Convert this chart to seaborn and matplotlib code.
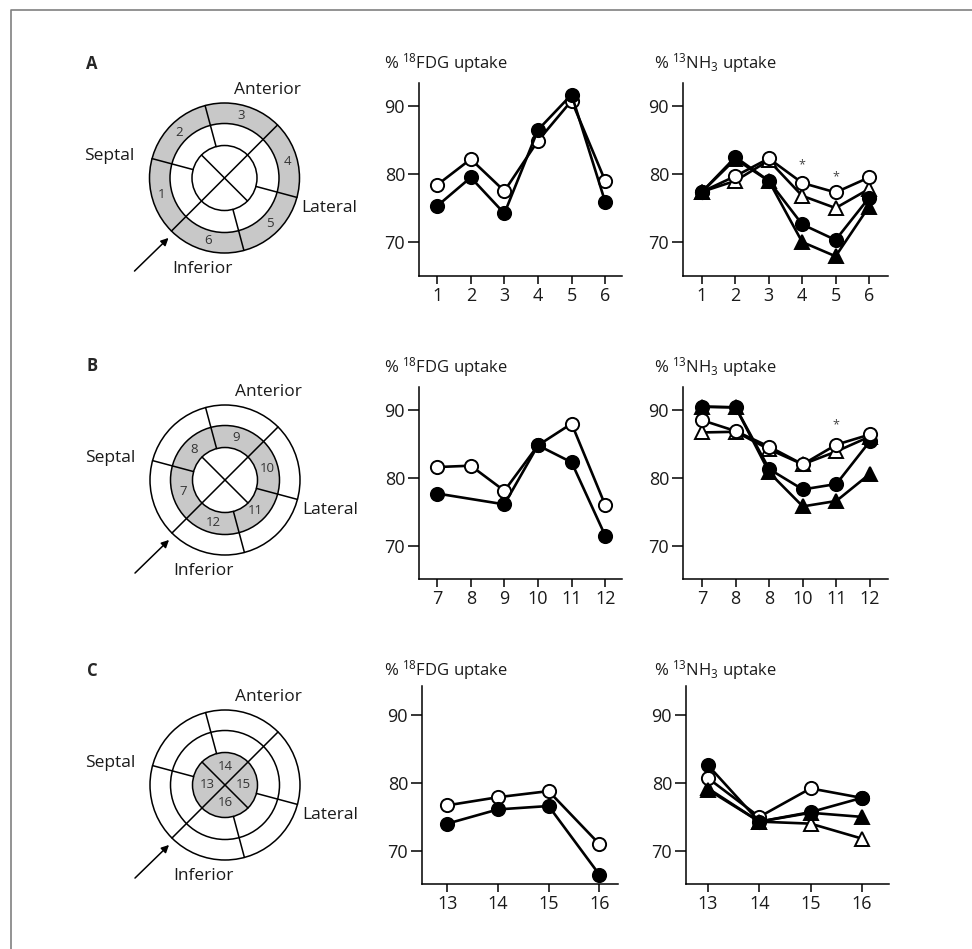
import numpy as np
import pandas as pd
import matplotlib
matplotlib.use("Agg")
import matplotlib.pyplot as plt
from matplotlib.patches import Circle, Wedge, FancyArrowPatch
from matplotlib.lines import Line2D
import seaborn as sns

# ---------------- data ----------------
ticks_A = ['1', '2', '3', '4', '5', '6']
ticks_B_fdg = ['7', '8', '9', '10', '11', '12']
ticks_B_nh3 = ['7', '8', '8', '10', '11', '12']
ticks_C = ['13', '14', '15', '16']

fdg_A_open = [78.4, 82.2, 77.5, 84.9, 90.8, 79.0]
fdg_A_filled = [75.3, 79.5, 74.2, 86.5, 91.7, 75.9]

nh3_A_open_circle = [77.4, 79.7, 82.3, 78.7, 77.3, 79.5]
nh3_A_open_tri = [77.4, 79.0, 82.0, 76.8, 75.0, 77.8]
nh3_A_filled_circle = [77.4, 82.5, 79.0, 72.6, 70.3, 76.5]
nh3_A_filled_tri = [77.4, 82.2, 79.0, 70.0, 67.9, 75.2]

fdg_B_open = [81.6, 81.8, 78.1, 84.8, 88.0, 76.0]
fdg_B_filled = [77.7, None, 76.1, 84.8, 82.3, 71.5]

nh3_B_open_circle = [88.5, 86.9, 84.6, 82.0, 84.9, 86.4]
nh3_B_open_tri = [86.7, 86.8, 84.2, 82.0, 83.9, 86.1]
nh3_B_filled_circle = [90.5, 90.4, 81.3, 78.3, 79.1, 85.4]
nh3_B_filled_tri = [90.5, 90.4, 80.8, 75.8, 76.6, 80.6]

fdg_C_open = [76.7, 77.9, 78.8, 71.0]
fdg_C_filled = [74.0, 76.1, 76.6, 66.5]

nh3_C_open_circle = [80.7, 75.0, 79.2, 77.8]
nh3_C_open_tri = [79.2, 74.3, 74.0, 71.8]
nh3_C_filled_circle = [82.6, 74.3, 75.7, 77.8]
nh3_C_filled_tri = [79.0, 74.3, 75.6, 75.0]

# significance marks: (segment index, y)
stars_A = [(3, 81.3), (4, 79.6)]
stars_B = [(4, 87.8)]

segments_A = ['1', '2', '3', '4', '5', '6']
segments_B = ['7', '8', '9', '10', '11', '12']
segments_C = ['13', '14', '15', '16']

# ---------------- style ----------------
sns.set_style("ticks")
plt.rcParams['font.family'] = ['Open Sans', 'DejaVu Sans']
plt.rcParams['mathtext.fontset'] = 'custom'
plt.rcParams['mathtext.rm'] = 'Open Sans'
plt.rcParams['mathtext.it'] = 'Open Sans:italic'
plt.rcParams['mathtext.bf'] = 'Open Sans:bold'

TXT = '#1a1a1a'
W, H = 972, 949
fig = plt.figure(figsize=(W / 100, H / 100), dpi=100)

# overlay in pixel coordinates
ov = fig.add_axes([0, 0, 1, 1])
ov.set_xlim(0, W)
ov.set_ylim(H, 0)
ov.axis('off')

# frame
ov.add_line(Line2D([11, 11, W], [H, 10, 10], color='#808080', lw=1.2))

GRAY = '#c8c8c8'
R_OUT, R_MID, R_IN = 75, 54.5, 32.5


def bullseye(cx, cy, letter, shade, labels):
    lw = 1.1
    if shade == 'outer':
        ov.add_patch(Wedge((cx, cy), R_OUT, 0, 360, width=R_OUT - R_MID, facecolor=GRAY, edgecolor='none'))
    elif shade == 'mid':
        ov.add_patch(Wedge((cx, cy), R_MID, 0, 360, width=R_MID - R_IN, facecolor=GRAY, edgecolor='none'))
    else:
        ov.add_patch(Circle((cx, cy), R_IN, facecolor=GRAY, edgecolor='none'))
    for r in (R_OUT, R_MID, R_IN):
        ov.add_patch(Circle((cx, cy), r, facecolor='none', edgecolor='black', lw=lw))

    def pt(r, ang):
        a = np.deg2rad(ang)
        return cx + r * np.cos(a), cy - r * np.sin(a)

    for ang in (105, 165, 285, 345):
        p1, p2 = pt(R_IN, ang), pt(R_OUT, ang)
        ov.add_line(Line2D([p1[0], p2[0]], [p1[1], p2[1]], color='black', lw=lw))
    p1, p2 = pt(R_OUT, 45), pt(R_OUT, 225)
    ov.add_line(Line2D([p1[0], p2[0]], [p1[1], p2[1]], color='black', lw=lw))
    p1, p2 = pt(R_IN, 135), pt(R_IN, 315)
    ov.add_line(Line2D([p1[0], p2[0]], [p1[1], p2[1]], color='black', lw=lw))

    if shade == 'outer':
        rr, angs = (R_OUT + R_MID) / 2, [195, 135, 75, 15, 315, 255]
    elif shade == 'mid':
        rr, angs = (R_MID + R_IN) / 2, [195, 135, 75, 15, 315, 255]
    else:
        rr, angs = 18, [180, 90, 0, 270]
    for lab, ang in zip(labels, angs):
        x, y = pt(rr, ang)
        ov.text(x, y, lab, ha='center', va='center', fontsize=9.5, color='#333333')

    fs = 12.5
    ov.text(cx + 43, cy - 88, 'Anterior', ha='center', va='center', fontsize=fs, color=TXT)
    ov.text(cx - 115, cy - 22, 'Septal', ha='center', va='center', fontsize=fs, color=TXT)
    ov.text(cx + 105, cy + 30, 'Lateral', ha='center', va='center', fontsize=fs, color=TXT)
    ov.text(cx - 22, cy + 91, 'Inferior', ha='center', va='center', fontsize=fs, color=TXT)
    ov.add_patch(FancyArrowPatch((cx - 92, cy + 95), (cx - 54, cy + 58),
                                 arrowstyle='-|>', mutation_scale=11, color='black', lw=1.1))
    ov.text(cx - 133, cy - 114, letter, ha='center', va='center', fontsize=12, fontweight='bold')


bullseye(224.5, 178, 'A', 'outer', segments_A)
bullseye(225, 480, 'B', 'mid', segments_B)
bullseye(225, 785, 'C', 'inner', segments_C)


def make_ax(left, right, top, bottom):
    return fig.add_axes([left / W, 1 - bottom / H, (right - left) / W, (bottom - top) / H])


STYLES = {
    'open_circle': dict(marker='o', markerfacecolor='white', markersize=9.5),
    'filled_circle': dict(marker='o', markerfacecolor='black', markersize=9.5),
    'open_tri': dict(marker='^', markerfacecolor='white', markersize=9.5),
    'filled_tri': dict(marker='^', markerfacecolor='black', markersize=9.5),
}


def series(ax, values, style):
    df = pd.DataFrame({'x': np.arange(len(values)), 'y': values}).dropna()
    sns.lineplot(data=df, x='x', y='y', ax=ax, color='black', linewidth=1.9,
                 markeredgecolor='black', markeredgewidth=1.4, **STYLES[style])


def finish(ax, ticks, xlim, ylim):
    ax.set_xlim(*xlim)
    ax.set_ylim(*ylim)
    ax.set_xticks(range(len(ticks)))
    ax.set_xticklabels(ticks)
    ax.set_yticks([70, 80, 90])
    ax.set_xlabel('')
    ax.set_ylabel('')
    sns.despine(ax=ax)
    for s in ('left', 'bottom'):
        ax.spines[s].set_linewidth(1.1)
        ax.spines[s].set_color('black')
    ax.tick_params(axis='y', length=8, width=1.1, labelsize=13, colors='black', labelcolor=TXT, pad=2)
    ax.tick_params(axis='x', length=6, width=1.1, labelsize=13, colors='black', labelcolor=TXT, pad=2)
    ax.patch.set_alpha(0)


FDG_T = '% $^{18}$FDG uptake'
NH3_T = '% $^{13}$NH$_3$ uptake'

rows = [
    dict(top=83, bottom=276, ty=63,
         fdg=[(fdg_A_open, 'open_circle'), (fdg_A_filled, 'filled_circle')],
         nh3=[(nh3_A_open_tri, 'open_tri'), (nh3_A_filled_tri, 'filled_tri'),
              (nh3_A_open_circle, 'open_circle'), (nh3_A_filled_circle, 'filled_circle')],
         fticks=ticks_A, nticks=ticks_A, fx=(419, 622), nx=(683, 888),
         fxlim=(-0.54, 5.5), nxlim=(-0.57, 5.57), ylim=(65, 93.4), stars=stars_A),
    dict(top=387, bottom=579, ty=367,
         fdg=[(fdg_B_open, 'open_circle'), (fdg_B_filled, 'filled_circle')],
         nh3=[(nh3_B_open_tri, 'open_tri'), (nh3_B_filled_tri, 'filled_tri'),
              (nh3_B_filled_circle, 'filled_circle'), (nh3_B_open_circle, 'open_circle')],
         fticks=ticks_B_fdg, nticks=ticks_B_nh3, fx=(419, 622), nx=(683, 888),
         fxlim=(-0.54, 5.5), nxlim=(-0.57, 5.54), ylim=(65.1, 93.4), stars=stars_B),
    dict(top=686, bottom=884, ty=670,
         fdg=[(fdg_C_open, 'open_circle'), (fdg_C_filled, 'filled_circle')],
         nh3=[(nh3_C_open_tri, 'open_tri'), (nh3_C_open_circle, 'open_circle'),
              (nh3_C_filled_tri, 'filled_tri'), (nh3_C_filled_circle, 'filled_circle')],
         fticks=ticks_C, nticks=ticks_C, fx=(422, 618), nx=(686, 889),
         fxlim=(-0.5, 3.37), nxlim=(-0.43, 3.53), ylim=(65.1, 94.3), stars=[]),
]

for r in rows:
    axf = make_ax(r['fx'][0], r['fx'][1], r['top'], r['bottom'])
    for vals, st in r['fdg']:
        series(axf, vals, st)
    finish(axf, r['fticks'], r['fxlim'], r['ylim'])
    fig.text(384 / W, 1 - r['ty'] / H, FDG_T, ha='left', va='center', fontsize=12, color=TXT)

    axn = make_ax(r['nx'][0], r['nx'][1], r['top'], r['bottom'])
    for vals, st in r['nh3']:
        series(axn, vals, st)
    finish(axn, r['nticks'], r['nxlim'], r['ylim'])
    for xi, yv in r['stars']:
        axn.text(xi, yv, '*', ha='center', va='center', fontsize=9, color='#444444')
    fig.text(654 / W, 1 - r['ty'] / H, NH3_T, ha='left', va='center', fontsize=12, color=TXT)

fig.savefig('out.png', dpi=100)
